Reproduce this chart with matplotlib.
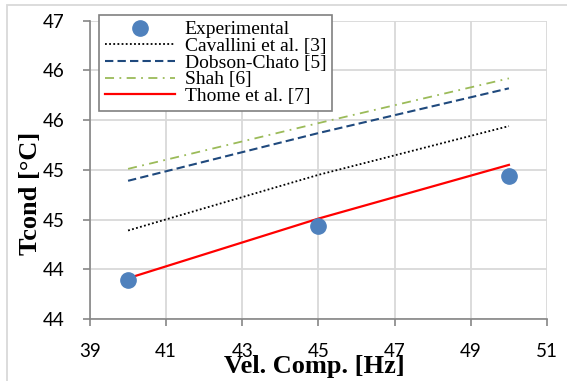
import matplotlib
matplotlib.use("Agg")
import matplotlib.pyplot as plt
from matplotlib.patches import Rectangle

# values
freq = [40, 45, 50]
experimental = [44.14, 44.69, 45.19]
cavallini = [44.64, 45.20, 45.69]
dobson = [45.14, 45.62, 46.07]
shah = [45.26, 45.72, 46.17]
thome = [44.16, 44.76, 45.30]

x_ticks = [39, 41, 43, 45, 47, 49, 51]
y_ticks = [43.75, 44.25, 44.75, 45.25, 45.75, 46.25, 46.75]
y_labels = ["44", "44", "45", "45", "46", "46", "47"]

grid_c = "#d9d9d9"
axis_c = "#868686"

fig = plt.figure(figsize=(5.67, 3.81), dpi=100)
ax = fig.add_axes([90 / 567, 1 - 319 / 381, 457 / 567, 298.3 / 381])

ax.plot(freq, cavallini, color="black", ls=(0, (1, 1.3)), lw=1.3, label="Cavallini et al. [3]")
ax.plot(freq, dobson, color="#1f497d", ls=(0, (4, 2)), lw=1.5, label="Dobson-Chato [5]")
ax.plot(freq, shah, color="#9bbb59", ls=(0, (5, 3, 1, 3)), lw=1.3, label="Shah [6]")
ax.plot(freq, thome, color="#ff0000", ls="-", lw=1.6, label="Thome et al. [7]")
ax.plot(freq, experimental, ls="none", marker="o", ms=11, color="#4f81bd",
        label="Experimental", zorder=5)

ax.set_xlim(39, 51)
ax.set_ylim(43.75, 46.75)
ax.set_xticks(x_ticks)
ax.set_yticks(y_ticks)
ax.set_yticklabels(y_labels)

ax.grid(True, color=grid_c, lw=1.3)
ax.set_axisbelow(True)
for s in ["top", "right"]:
    ax.spines[s].set_visible(False)
for s in ["left", "bottom"]:
    ax.spines[s].set_color(axis_c)
    ax.spines[s].set_linewidth(1.2)
ax.tick_params(axis="both", direction="out", color=axis_c, width=1.2,
               length=5, labelsize=13.5, labelcolor="black")
ax.tick_params(axis="x", pad=12)
ax.tick_params(axis="y", pad=13)
for lab in ax.get_xticklabels() + ax.get_yticklabels():
    lab.set_family("Lato")

ax.set_xlabel("Vel. Comp. [Hz]", family="Liberation Serif", weight="bold", fontsize=19)
ax.xaxis.set_label_coords(0.492, -0.12)
ax.set_ylabel("Tcond [°C]", family="Liberation Serif", weight="bold", fontsize=19)
ax.yaxis.set_label_coords(-0.105, 0.422)

handles, labels = ax.get_legend_handles_labels()
order = [4, 0, 1, 2, 3]
leg = fig.legend([handles[i] for i in order], [labels[i] for i in order],
                 loc="upper left", bbox_to_anchor=(99 / 567, 1 - 15 / 381),
                 prop={"family": "Liberation Serif", "size": 14},
                 numpoints=1, handlelength=3.6, handletextpad=0.5,
                 labelspacing=-0.05, borderpad=0.3, borderaxespad=0,
                 fancybox=False, framealpha=1, edgecolor="#808080")
leg.get_frame().set_linewidth(1.2)

fig.patches.append(Rectangle((7 / 567, -0.05), 1.1, 1 - 5 / 381 + 0.05,
                             transform=fig.transFigure, fill=False,
                             edgecolor=grid_c, lw=1.3))

fig.savefig("out.png", dpi=100)
